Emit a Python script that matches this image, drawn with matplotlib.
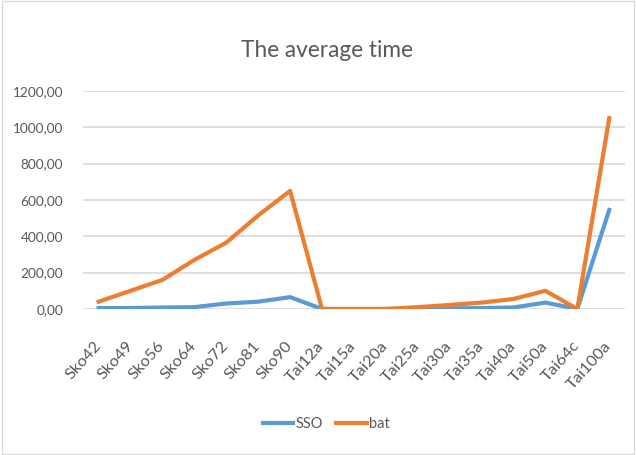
import matplotlib
matplotlib.use('Agg')
import matplotlib.pyplot as plt
from matplotlib.ticker import FuncFormatter

names = ['Sko42', 'Sko49', 'Sko56', 'Sko64', 'Sko72', 'Sko81', 'Sko90',
         'Tai12a', 'Tai15a', 'Tai20a', 'Tai25a', 'Tai30a', 'Tai35a',
         'Tai40a', 'Tai50a', 'Tai64c', 'Tai100a']
sso = [5, 5, 8, 10, 30, 40, 65, 0, 0, 0, 1, 3, 5, 8, 35, 0, 545]
bat = [40, 100, 160, 270, 365, 515, 650, 0, 0, 0, 10, 22, 35, 55, 100, 0, 1050]

plt.rcParams['font.family'] = ['Lato', 'DejaVu Sans']
grey = '#595959'

fig = plt.figure(figsize=(6.36, 4.55), dpi=100)
ax = fig.add_axes([0.130, 0.321, 0.853, 0.479])
x = list(range(len(names)))
ax.plot(x, sso, color='#5B9BD5', lw=3, label='SSO', solid_joinstyle='round')
ax.plot(x, bat, color='#ED7D31', lw=3, label='bat', solid_joinstyle='round')

ax.set_xlim(-0.5, len(names) - 0.5)
ax.set_ylim(0, 1200)
ax.set_yticks(range(0, 1201, 200))
ax.yaxis.set_major_formatter(FuncFormatter(lambda v, p: ('%.2f' % v).replace('.', ',')))
ax.set_xticks(x)
ax.set_xticklabels(names, rotation=48, ha='right', va='center', rotation_mode='anchor')
for lab in ax.get_xticklabels():
    lab.set_x(lab.get_position()[0])
ax.tick_params(axis='both', length=0, colors=grey)
ax.tick_params(axis='y', pad=14, labelsize=9.8)
ax.tick_params(axis='x', pad=25, labelsize=11.8)
ax.grid(axis='y', color='#d9d9d9', lw=1.2)
ax.set_axisbelow(True)
for s in ax.spines.values():
    s.set_visible(False)

fig.text(0.514, 0.89, 'The average time', ha='center', va='center', fontsize=16.3, color=grey)
fig.legend(loc='center', bbox_to_anchor=(0.513, 0.068), ncol=2, frameon=False,
           fontsize=10.5, labelcolor=grey, handlelength=2.1, handletextpad=0.15,
           columnspacing=0.9)
fig.add_artist(plt.Rectangle((0.003, 0.003), 0.994, 0.994, transform=fig.transFigure,
                             fill=False, edgecolor='#d9d9d9', lw=1))
fig.savefig('out.png', dpi=100)
